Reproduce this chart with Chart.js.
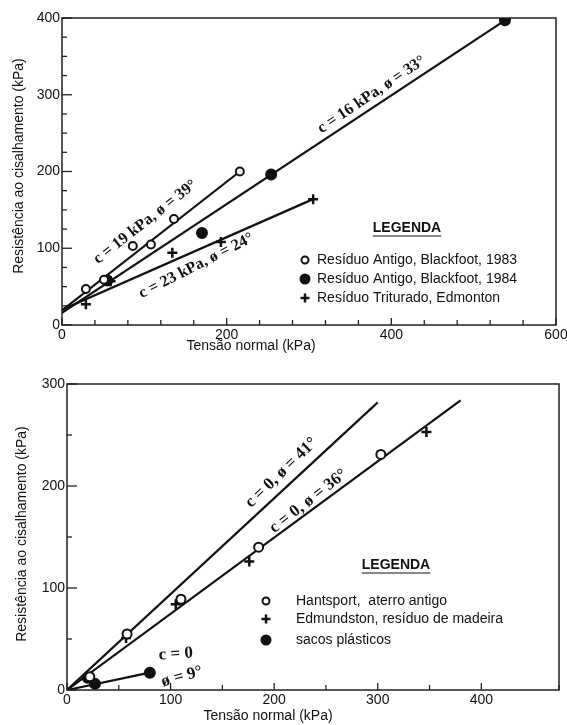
<!DOCTYPE html>
<html>
<head>
<meta charset="utf-8">
<script src="https://cdn.jsdelivr.net/npm/chart.js@4.4.0/dist/chart.umd.min.js"></script>
<style>
  body { margin: 0; background: #fff; width: 567px; height: 725px; position: relative; overflow: hidden; }
  .box { position: absolute; left: 0; width: 567px; }
  #top { top: 0; height: 355px; }
  #bottom { top: 360px; height: 365px; }
</style>
</head>
<body>
<div class="box" id="top"><canvas id="chart1"></canvas></div>
<div class="box" id="bottom"><canvas id="chart2"></canvas></div>
<script>
// ---- upper plot: Blackfoot / Edmonton residues ----
const old83X = [29, 51, 86, 108, 136, 216];
const old83Y = [47, 59, 103, 105, 138, 200];
const old84X = [55, 170, 254, 538];
const old84Y = [58, 120, 196, 397];
const crushedX = [29, 59, 134, 193, 305];
const crushedY = [27, 57, 94, 108, 164];
// failure envelopes (end points)
const env39X = [0, 216];
const env39Y = [19, 200];
const env33X = [0, 538];
const env33Y = [16, 397];
const env24X = [0, 305];
const env24Y = [20, 164];
const topLegend = ['Resíduo Antigo, Blackfoot, 1983', 'Resíduo Antigo, Blackfoot, 1984', 'Resíduo Triturado, Edmonton'];
const topNotes = ['c = 19 kPa, ø = 39°', 'c = 16 kPa, ø = 33°', 'c = 23 kPa, ø = 24°'];

// ---- lower plot: Hantsport / Edmundston / plastic bags ----
const hantsX = [22, 58, 110, 185, 303];
const hantsY = [13, 55, 89, 140, 231];
const edmX = [25, 57, 105, 176, 347];
const edmY = [10, 51, 84, 126, 253];
const sacosX = [20, 27, 80];
const sacosY = [12, 6, 17];
const env41X = [0, 300];
const env41Y = [0, 282];
const env36X = [0, 380];
const env36Y = [0, 284];
const env9X = [0, 80];
const env9Y = [0, 17];
const bottomLegend = ['Hantsport,  aterro antigo', 'Edmundston, resíduo de madeira', 'sacos plásticos'];
const bottomNotes = ['c = 0, ø = 41°', 'c = 0, ø = 36°', 'c = 0', 'ø = 9°'];

const ink = '#111';
const sans = "'Liberation Sans', Arial, sans-serif";
const serif = "'Liberation Serif', 'Times New Roman', serif";

function pts(xs, ys) {
  return xs.map((x, i) => ({ x: x, y: ys[i] }));
}

function markers(xs, ys, kind, r) {
  return {
    data: pts(xs, ys),
    showLine: false,
    pointStyle: kind === 'plus' ? 'cross' : 'circle',
    pointRadius: r,
    pointBorderWidth: kind === 'plus' ? 2.5 : 2,
    pointBorderColor: ink,
    pointBackgroundColor: kind === 'filled' ? ink : '#fff'
  };
}

function envelope(xs, ys) {
  return {
    data: pts(xs, ys),
    showLine: true,
    borderColor: ink,
    borderWidth: 2.2,
    pointRadius: 0,
    tension: 0
  };
}

function line(ctx, x1, y1, x2, y2) {
  ctx.beginPath();
  ctx.moveTo(x1, y1);
  ctx.lineTo(x2, y2);
  ctx.stroke();
}

function drawMarker(ctx, kind, x, y, r) {
  ctx.strokeStyle = ink;
  ctx.fillStyle = kind === 'filled' ? ink : '#fff';
  if (kind === 'plus') {
    ctx.lineWidth = 2.5;
    line(ctx, x - r, y, x + r, y);
    line(ctx, x, y - r, x, y + r);
    return;
  }
  ctx.lineWidth = 2;
  ctx.beginPath();
  ctx.arc(x, y, r, 0, Math.PI * 2);
  ctx.fill();
  ctx.stroke();
}

// frame, inward ticks, axis titles, notes and the boxed legend
function decorations(cfg) {
  return {
    id: 'decorations',
    afterDraw(chart) {
      const ctx = chart.ctx;
      const a = chart.chartArea;
      const sx = chart.scales.x, sy = chart.scales.y;
      ctx.save();
      ctx.strokeStyle = '#222';
      ctx.lineWidth = 1.5;
      ctx.strokeRect(a.left, a.top, a.right - a.left, a.bottom - a.top);
      ctx.lineWidth = 1.3;
      sy.ticks.forEach(t => {
        const p = sy.getPixelForValue(t.value);
        const len = t.value % cfg.yMajor === 0 ? 10 : 5;
        line(ctx, a.left, p, a.left + len, p);
      });
      sx.ticks.forEach(t => {
        const p = sx.getPixelForValue(t.value);
        const len = t.value % cfg.xMajor === 0 ? 7 : 5;
        line(ctx, p, a.bottom, p, a.bottom - len);
      });

      // axis titles
      ctx.fillStyle = ink;
      ctx.font = '14px ' + sans;
      ctx.textAlign = 'center';
      ctx.textBaseline = 'middle';
      ctx.fillText('Tensão normal (kPa)', cfg.xTitle[0], cfg.xTitle[1]);
      ctx.save();
      ctx.translate(cfg.yTitle[0], cfg.yTitle[1]);
      ctx.rotate(-Math.PI / 2);
      ctx.fillText('Resistência ao cisalhamento (kPa)', 0, 0);
      ctx.restore();

      // envelope notes
      cfg.notes.forEach(n => {
        ctx.save();
        ctx.translate(sx.getPixelForValue(n.x), sy.getPixelForValue(n.y));
        ctx.rotate(n.angle * Math.PI / 180);
        ctx.font = 'bold ' + n.size + 'px ' + serif;
        ctx.fillText(n.text, 0, 0);
        ctx.restore();
      });

      // legend
      const L = cfg.legend;
      ctx.font = 'bold 14px ' + sans;
      ctx.fillText('LEGENDA', L.headX, L.headY);
      const w = ctx.measureText('LEGENDA').width;
      ctx.lineWidth = 1.2;
      ctx.strokeStyle = ink;
      line(ctx, L.headX - w / 2, L.headY + 8, L.headX + w / 2, L.headY + 8);
      ctx.font = '14px ' + sans;
      ctx.textAlign = 'left';
      L.labels.forEach((txt, i) => {
        drawMarker(ctx, L.kinds[i], L.markX, L.rows[i], L.radius[i]);
        ctx.fillStyle = ink;
        ctx.fillText(txt, L.textX, L.rows[i]);
      });
      ctx.restore();
    }
  };
}

function axisOptions(max, step, major, size) {
  return {
    type: 'linear',
    min: 0,
    max: max,
    grid: { display: false, drawTicks: false },
    border: { display: false },
    ticks: {
      stepSize: step,
      autoSkip: false,
      maxRotation: 0,
      padding: 2,
      color: ink,
      font: { family: sans, size: 14 },
      callback: v => (v % major === 0 ? String(v) : '')
    },
    afterFit(s) {
      if (s.isHorizontal()) s.height = size; else s.width = size;
      s.paddingLeft = 0; s.paddingRight = 0; s.paddingTop = 0; s.paddingBottom = 0;
    }
  };
}

function baseOptions(padding, x, y) {
  return {
    responsive: true,
    maintainAspectRatio: false,
    animation: false,
    layout: { padding: padding },
    plugins: { legend: { display: false }, tooltip: { enabled: false } },
    scales: { x: x, y: y }
  };
}

// upper chart
const topChart = new Chart(document.getElementById('chart1').getContext('2d'), {
  type: 'scatter',
  data: {
    datasets: [
      markers(old83X, old83Y, 'open', 4),
      markers(old84X, old84Y, 'filled', 5),
      markers(crushedX, crushedY, 'plus', 5),
      envelope(env39X, env39Y),
      envelope(env33X, env33Y),
      envelope(env24X, env24Y)
    ]
  },
  options: baseOptions({ left: 0, right: 11, top: 18, bottom: 0 },
    axisOptions(600, 40, 200, 30),
    axisOptions(400, 25, 100, 62)),
  plugins: [decorations({
    yMajor: 100, xMajor: 200,
    xTitle: [251, 346], yTitle: [19, 166],
    notes: [
      { text: topNotes[0], x: 101, y: 134, angle: -38, size: 16 },
      { text: topNotes[1], x: 376, y: 300, angle: -34, size: 16 },
      { text: topNotes[2], x: 163, y: 77, angle: -27, size: 16 }
    ],
    legend: {
      headX: 407, headY: 228, markX: 305, textX: 317,
      rows: [260, 279, 298], labels: topLegend,
      kinds: ['open', 'filled', 'plus'], radius: [3.5, 4.5, 4.5]
    }
  })]
});

// lower chart
const bottomChart = new Chart(document.getElementById('chart2').getContext('2d'), {
  type: 'scatter',
  data: {
    datasets: [
      markers(hantsX, hantsY, 'open', 4.5),
      markers(edmX, edmY, 'plus', 5),
      markers(sacosX, sacosY, 'filled', 5),
      envelope(env41X, env41Y),
      envelope(env36X, env36Y),
      envelope(env9X, env9Y)
    ]
  },
  options: baseOptions({ left: 0, right: 8, top: 24, bottom: 0 },
    axisOptions(475, 50, 100, 35),
    axisOptions(300, 50, 100, 67)),
  plugins: [decorations({
    yMajor: 100, xMajor: 100,
    xTitle: [268, 356], yTitle: [22, 174],
    notes: [
      { text: bottomNotes[0], x: 207, y: 213, angle: -44, size: 17 },
      { text: bottomNotes[1], x: 233, y: 185, angle: -38, size: 17 },
      { text: bottomNotes[2], x: 105, y: 35, angle: -4, size: 17 },
      { text: bottomNotes[3], x: 111, y: 13, angle: -15, size: 17 }
    ],
    legend: {
      headX: 396, headY: 205, markX: 266, textX: 296,
      rows: [241, 259, 280], labels: bottomLegend,
      kinds: ['open', 'plus', 'filled'], radius: [3.5, 4.5, 4.5]
    }
  })]
});
</script>
</body>
</html>
